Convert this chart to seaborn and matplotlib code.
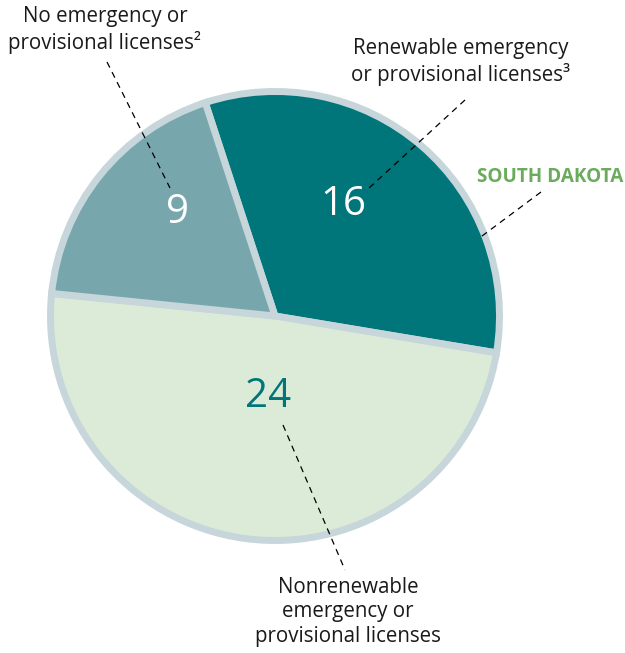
import matplotlib
matplotlib.use("Agg")
import matplotlib.pyplot as plt
import seaborn as sns

# ---- data ----
categories = ["Renewable emergency\nor provisional licenses³",
              "Nonrenewable\nemergency or\nprovisional licenses",
              "No emergency or\nprovisional licenses²"]
values = [16, 24, 9]
slice_colors = ["#00767a", "#dcebd7", "#77a7ad"]
number_colors = ["white", "#00767a", "white"]
title = "SOUTH DAKOTA"

sns.set_theme(style="white")
plt.rcParams['font.family'] = ['Open Sans', 'DejaVu Sans']

W, H = 625, 653
fig = plt.figure(figsize=(W / 100, H / 100), dpi=100)
ax = fig.add_axes([0, 0, 1, 1])

def P(x, y):
    return (x, H - y)

cx, cy = P(275, 316)
R = 224.5
start = 108.1
wedges, _ = ax.pie(values, colors=slice_colors, startangle=start, counterclock=False,
                   center=(cx, cy), radius=R, frame=True,
                   wedgeprops=dict(edgecolor="#c6d6da", linewidth=5))

ax.set_xlim(0, W)
ax.set_ylim(0, H)
ax.set_aspect('equal')
ax.axis('off')

# numbers
num_pos = [P(343, 205), P(268, 397), P(178, 213)]
for v, pos, c in zip(values, num_pos, number_colors):
    ax.text(pos[0], pos[1], str(v), color=c, fontsize=29, ha="center", va="center")

# leader lines
dash = dict(color="black", lw=0.9, linestyle=(0, (5, 4)))
lines = [((465, 100), (368, 189)),
         ((283, 425), (345, 570)),
         ((107, 62), (170, 188)),
         ((541, 192), (478, 239))]
for (a, b) in lines:
    p1, p2 = P(*a), P(*b)
    ax.plot([p1[0], p2[0]], [p1[1], p2[1]], **dash)

# category labels
lab_pos = [P(461, 62), P(348, 612), P(105, 30)]
for lab, pos in zip(categories, lab_pos):
    ax.text(pos[0], pos[1], lab, fontsize=14.8, ha="center", va="center",
            color="#1a1a1a", linespacing=1.2)

tx, ty = P(550, 177)
ax.text(tx, ty, title, fontsize=13.6, fontweight="bold", color="#6aab5c",
        ha="center", va="center")

fig.savefig("out.png", dpi=100)
